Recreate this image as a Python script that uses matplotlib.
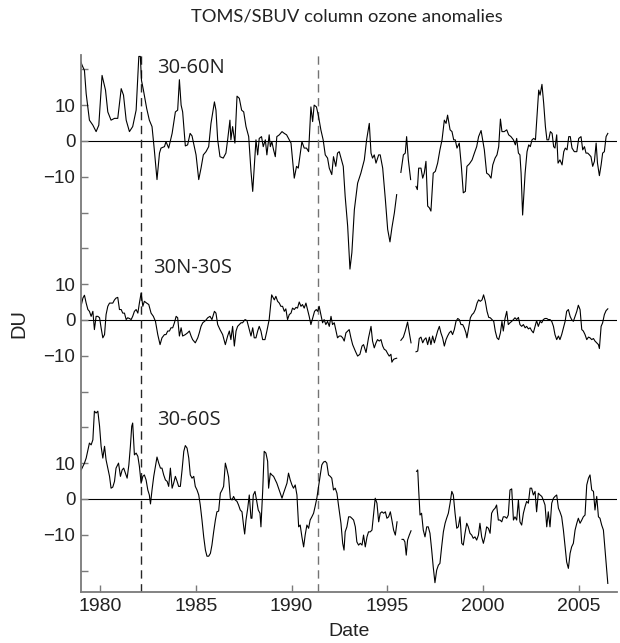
import numpy as np
import matplotlib
matplotlib.use("Agg")
import matplotlib.pyplot as plt

nan = float("nan")

# ---------------- data (decimal year, DU anomaly) ----------------
n_years = [1979.00, 1979.06, 1979.18, 1979.27, 1979.44, 1979.62, 1979.79, 1979.93, 1980.10, 1980.28,
           1980.40, 1980.57, 1980.75, 1980.92, 1981.10, 1981.22, 1981.36, 1981.53, 1981.70, 1981.88,
           1982.02, 1982.10, 1982.16, 1982.26, 1982.43, 1982.57, 1982.71, 1982.83, 1982.97, 1983.10,
           1983.18, 1983.36, 1983.44, 1983.58, 1983.76, 1983.93, 1984.05, 1984.14, 1984.23, 1984.31,
           1984.45, 1984.57, 1984.70, 1984.80, 1984.92, 1985.01, 1985.15, 1985.27, 1985.39, 1985.53,
           1985.67, 1985.79, 1985.97, 1986.05, 1986.14, 1986.26, 1986.43, 1986.57, 1986.66, 1986.78,
           1986.83, 1986.92, 1987.04, 1987.15, 1987.27, 1987.39, 1987.50, 1987.62, 1987.76, 1987.88,
           1987.97, 1988.05, 1988.14, 1988.23, 1988.31, 1988.43, 1988.52, 1988.63, 1988.71, 1988.83,
           1988.89, 1988.97, 1989.06, 1989.15, 1989.23, 1989.36, 1989.50, 1989.62, 1989.74, 1989.84,
           1989.97, 1990.05, 1990.14, 1990.26, 1990.35, 1990.43, 1990.54, 1990.66, 1990.78, 1990.89,
           1991.01, 1991.10, 1991.18, 1991.30, 1991.41, 1991.53, 1991.65, 1991.76, 1991.88, 1991.97,
           1992.10, 1992.19, 1992.31, 1992.40, 1992.49, 1992.58, 1992.70, 1992.80, 1992.93, 1993.05,
           1993.15, 1993.28, 1993.45, 1993.62, 1993.80, 1993.92, 1994.06, 1994.15, 1994.23, 1994.32,
           1994.41, 1994.55, 1994.63, 1994.76, 1994.90, 1995.02, 1995.14, 1995.24, 1995.37, 1995.49,
           1995.60, 1995.71, 1995.84, 1995.94, 1996.01, 1996.10, 1996.22, 1996.36, 1996.50, 1996.57,
           1996.64, 1996.76, 1996.85, 1996.93, 1997.02, 1997.11, 1997.20, 1997.28, 1997.40, 1997.51,
           1997.63, 1997.75, 1997.86, 1997.98, 1998.07, 1998.15, 1998.28, 1998.38, 1998.47, 1998.55,
           1998.64, 1998.76, 1998.87, 1998.97, 1999.08, 1999.16, 1999.29, 1999.43, 1999.55, 1999.67,
           1999.77, 1999.90, 1999.98, 2000.07, 2000.19, 2000.30, 2000.42, 2000.51, 2000.63, 2000.73,
           2000.82, 2000.91, 2000.99, 2001.11, 2001.24, 2001.34, 2001.46, 2001.59, 2001.69, 2001.76,
           2001.85, 2001.93, 2001.99, 2002.07, 2002.20, 2002.30, 2002.39, 2002.47, 2002.56, 2002.65,
           2002.74, 2002.82, 2002.91, 2002.98, 2003.08, 2003.17, 2003.26, 2003.34, 2003.43, 2003.52,
           2003.61, 2003.69, 2003.76, 2003.85, 2003.92, 2004.02, 2004.13, 2004.22, 2004.30, 2004.39,
           2004.48, 2004.56, 2004.65, 2004.77, 2004.90, 2005.00, 2005.12, 2005.21, 2005.30, 2005.38,
           2005.47, 2005.56, 2005.64, 2005.73, 2005.82, 2005.91, 2005.98, 2006.08, 2006.17, 2006.25,
           2006.34, 2006.43, 2006.52]
n_values = [22.0, 21.1, 19.7, 13.2, 5.8, 4.4, 2.6, 4.4, 18.3, 14.2,
            8.1, 5.8, 6.3, 6.3, 14.6, 12.8, 5.8, 2.6, 4.0, 8.6,
            23.6, 23.6, 16.9, 14.2, 9.1, 5.8, 4.0, -2.5, -10.8, -3.4,
            -2.0, -1.6, -0.2, -2.0, 2.1, 8.1, 8.6, 17.1, 10.0, 8.1,
            -1.4, -1.1, 2.1, 1.4, -1.6, -3.9, -10.8, -7.6, -3.9, -3.0,
            -1.6, 4.9, 10.9, 8.6, 0.3, -4.4, -4.8, -3.4, 0.3, 5.8,
            0.3, 4.0, -0.6, 12.5, 11.9, 8.6, 8.1, 4.0, 1.2, -8.5,
            -14.1, -7.1, 0.3, -3.9, 0.7, 1.2, -1.6, 0.3, -3.9, 1.7,
            -1.6, -0.2, -2.5, -4.4, 1.2, 1.7, 2.6, 2.1, 1.7, 0.7,
            -0.6, -5.3, -10.4, -7.1, -7.6, -4.4, -0.2, -2.0, -2.0, -3.0,
            9.5, 5.4, 10.0, 9.5, 6.8, 3.1, 0.3, -3.9, -4.8, -7.6,
            -9.4, -4.4, -7.1, -3.4, -3.0, -4.8, -7.1, -15.5, -23.8, -35.8,
            -31.2, -19.2, -11.8, -9.0, -5.3, 0.3, 4.9, -3.4, -4.8, -3.9,
            -6.2, -3.9, -3.9, -7.6, -16.4, -24.7, -28.2, -24.3, -20.1, -15.0,
            nan, -8.8, -3.9, -3.4, 1.2, -5.3, -10.8, nan, -12.7, -13.6,
            -7.6, -7.6, -10.4, -9.0, -5.7, -18.2, -18.7, -19.6, -9.0, -8.5,
            -6.2, -2.5, 0.3, 5.8, 4.9, 7.2, 3.1, 2.6, 0.3, 0.3,
            -2.0, -0.6, -7.1, -14.5, -14.1, -7.1, -6.4, -5.3, -3.4, -1.6,
            1.2, 2.9, 0.3, -2.5, -9.0, -9.4, -10.4, -6.7, -4.8, -3.9,
            -1.6, 6.1, 2.6, 2.6, 3.1, 1.7, 1.2, 0.3, -1.1, 0.7,
            -3.4, -3.9, -9.0, -20.7, -9.0, -3.0, -1.1, -1.6, 0.3, 0.7,
            0.3, 6.8, 14.2, 12.8, 15.8, 10.5, 4.0, 0.3, 0.3, 2.6,
            2.1, -1.6, -2.0, 1.7, -6.2, -5.3, -6.7, -3.0, -2.0, -2.5,
            1.2, 1.2, -2.0, -3.0, -3.0, 0.7, 1.2, -2.5, -1.6, -3.4,
            -3.4, -3.9, -4.4, -7.1, -5.7, -0.6, -6.2, -9.7, -6.7, -3.4,
            -3.0, 1.2, 2.1]

t_years = [1979.00, 1979.10, 1979.18, 1979.27, 1979.36, 1979.44, 1979.53, 1979.62, 1979.70, 1979.79,
           1979.88, 1979.97, 1980.05, 1980.14, 1980.23, 1980.31, 1980.40, 1980.49, 1980.57, 1980.66,
           1980.75, 1980.83, 1980.92, 1981.01, 1981.10, 1981.18, 1981.27, 1981.36, 1981.44, 1981.53,
           1981.62, 1981.70, 1981.79, 1981.88, 1981.97, 1982.05, 1982.14, 1982.23, 1982.31, 1982.43,
           1982.54, 1982.66, 1982.78, 1982.89, 1983.01, 1983.13, 1983.23, 1983.36, 1983.44, 1983.53,
           1983.62, 1983.70, 1983.79, 1983.88, 1983.97, 1984.05, 1984.14, 1984.23, 1984.31, 1984.45,
           1984.57, 1984.66, 1984.75, 1984.83, 1984.97, 1985.10, 1985.18, 1985.27, 1985.36, 1985.50,
           1985.62, 1985.74, 1985.84, 1985.97, 1986.05, 1986.14, 1986.26, 1986.40, 1986.54, 1986.66,
           1986.75, 1986.83, 1986.92, 1987.01, 1987.10, 1987.18, 1987.27, 1987.36, 1987.44, 1987.57,
           1987.67, 1987.79, 1987.88, 1987.97, 1988.05, 1988.14, 1988.23, 1988.31, 1988.40, 1988.49,
           1988.61, 1988.71, 1988.83, 1988.96, 1989.10, 1989.18, 1989.27, 1989.36, 1989.44, 1989.53,
           1989.62, 1989.70, 1989.79, 1989.88, 1989.97, 1990.05, 1990.14, 1990.23, 1990.31, 1990.40,
           1990.49, 1990.57, 1990.66, 1990.75, 1990.83, 1990.92, 1991.01, 1991.10, 1991.20, 1991.29,
           1991.36, 1991.44, 1991.53, 1991.62, 1991.70, 1991.79, 1991.88, 1991.97, 1992.06, 1992.14,
           1992.23, 1992.32, 1992.40, 1992.49, 1992.58, 1992.67, 1992.75, 1992.84, 1992.93, 1993.01,
           1993.10, 1993.19, 1993.33, 1993.45, 1993.57, 1993.68, 1993.76, 1993.89, 1994.02, 1994.15,
           1994.23, 1994.32, 1994.41, 1994.49, 1994.58, 1994.67, 1994.76, 1994.84, 1994.93, 1995.02,
           1995.10, 1995.19, 1995.24, 1995.33, 1995.42, 1995.49, 1995.60, 1995.71, 1995.84, 1995.94,
           1996.06, 1996.15, 1996.24, 1996.37, 1996.50, 1996.59, 1996.67, 1996.76, 1996.85, 1996.93,
           1997.02, 1997.11, 1997.20, 1997.28, 1997.37, 1997.46, 1997.54, 1997.63, 1997.72, 1997.80,
           1997.89, 1997.98, 1998.07, 1998.15, 1998.24, 1998.33, 1998.41, 1998.50, 1998.59, 1998.68,
           1998.76, 1998.85, 1998.94, 1999.02, 1999.11, 1999.16, 1999.25, 1999.34, 1999.43, 1999.51,
           1999.60, 1999.69, 1999.77, 1999.86, 1999.95, 2000.03, 2000.12, 2000.21, 2000.30, 2000.38,
           2000.47, 2000.56, 2000.64, 2000.73, 2000.82, 2000.91, 2000.99, 2001.06, 2001.15, 2001.24,
           2001.32, 2001.41, 2001.50, 2001.59, 2001.67, 2001.76, 2001.85, 2001.93, 2002.02, 2002.11,
           2002.20, 2002.28, 2002.37, 2002.46, 2002.54, 2002.63, 2002.72, 2002.80, 2002.89, 2002.98,
           2003.07, 2003.15, 2003.24, 2003.33, 2003.41, 2003.50, 2003.59, 2003.68, 2003.76, 2003.85,
           2003.94, 2004.02, 2004.11, 2004.20, 2004.29, 2004.37, 2004.46, 2004.55, 2004.63, 2004.72,
           2004.81, 2004.90, 2004.98, 2005.07, 2005.16, 2005.24, 2005.33, 2005.42, 2005.51, 2005.59,
           2005.68, 2005.77, 2005.85, 2005.94, 2006.03, 2006.08, 2006.17, 2006.25, 2006.34, 2006.43,
           2006.52]
t_values = [3.8, 6.1, 6.9, 4.7, 2.9, 2.4, 1.0, 2.4, -2.7, 1.0,
            1.0, 0.6, -2.2, -5.0, -4.1, 1.5, 3.8, 4.7, 4.7, 4.7,
            5.6, 6.1, 6.3, 2.9, 2.9, 1.9, 1.9, 0.1, 0.6, 0.4,
            0.1, 1.0, 2.4, 2.9, 1.9, 4.7, 7.5, 3.8, 5.2, 4.7,
            4.3, 1.9, 1.0, -0.4, -4.1, -6.9, -5.0, -4.1, -4.1, -3.1,
            -3.1, -2.2, -2.2, -0.8, 1.0, 0.6, -4.5, -2.2, -4.5, -4.1,
            -3.6, -3.1, -4.5, -5.5, -6.4, -5.0, -3.6, -1.8, -0.8, -0.2,
            0.6, 1.0, 0.1, 2.4, 1.9, -1.3, -2.7, -4.1, -6.9, -4.5,
            -3.1, -5.5, -1.8, -7.3, -3.1, -1.8, -1.3, -0.8, -0.8, 0.1,
            -0.2, -2.7, -4.5, -2.2, -5.0, -5.0, -3.1, -1.8, -3.1, -5.5,
            -5.5, -3.1, 0.1, 7.0, 5.6, 6.6, 5.2, 4.7, 3.8, 3.8,
            2.4, 3.1, 0.1, 1.5, 1.9, 3.3, 2.9, 3.5, 3.3, 5.0,
            3.8, 4.3, 3.3, 4.7, 2.9, 1.0, -1.3, 0.4, 2.4, 2.9,
            2.4, 3.8, 1.5, -0.8, 0.1, -1.3, -0.4, -1.8, 1.0, -1.3,
            -0.8, -3.1, -5.0, -4.5, -4.5, -5.0, -5.9, -3.6, -3.1, -2.7,
            -5.0, -6.9, -8.7, -10.1, -9.6, -7.3, -6.9, -9.1, -5.0, -1.8,
            -5.9, -7.8, -6.4, -5.5, -5.9, -5.5, -7.3, -8.2, -8.5, -9.4,
            -10.1, -9.6, -11.8, -11.0, -10.8, -10.7, nan, -5.7, -4.8, -3.1,
            -0.6, -3.6, -6.4, nan, -8.9, -8.7, -5.2, -4.8, -6.4, -5.5,
            -5.0, -6.9, -4.8, -6.9, -4.5, -6.4, -4.8, -3.1, -1.8, -3.6,
            -5.0, -7.3, -5.5, -4.5, -3.6, -3.1, -4.1, -2.7, -0.4, 0.4,
            0.1, -1.3, -1.3, -2.2, -3.6, -5.0, -2.2, 0.6, 1.5, 1.9,
            2.9, 4.7, 5.6, 5.2, 5.6, 7.0, 5.2, 2.4, 0.7, 0.6,
            0.1, -0.4, -3.1, -5.0, -5.5, -3.6, -0.4, -3.1, 0.4, 2.4,
            -1.3, -0.8, -0.4, 0.1, 0.6, 0.1, 0.7, -1.3, -1.8, -1.3,
            -2.2, -1.8, -2.5, -2.2, -3.0, -3.6, -1.8, -0.2, -1.8, -0.4,
            -0.8, 0.1, 0.4, 0.4, 0.1, 0.1, -0.4, -1.8, -4.1, -5.5,
            -4.5, -5.5, -4.1, -2.2, -0.4, 2.4, 2.9, 1.0, 0.1, -0.4,
            1.0, 2.4, 4.1, 2.9, -2.7, -3.1, -4.1, -5.5, -4.8, -5.0,
            -5.5, -5.2, -5.9, -6.4, -6.9, -8.0, -1.8, -0.8, 1.5, 2.6,
            3.1]

s_years = [1979.01, 1979.10, 1979.18, 1979.27, 1979.36, 1979.44, 1979.53, 1979.62, 1979.70, 1979.79,
           1979.88, 1979.97, 1980.05, 1980.14, 1980.23, 1980.31, 1980.40, 1980.49, 1980.57, 1980.66,
           1980.75, 1980.83, 1980.96, 1981.06, 1981.15, 1981.23, 1981.32, 1981.41, 1981.50, 1981.58,
           1981.65, 1981.70, 1981.79, 1981.88, 1981.97, 1982.05, 1982.14, 1982.23, 1982.31, 1982.40,
           1982.49, 1982.57, 1982.63, 1982.71, 1982.80, 1982.89, 1982.97, 1983.06, 1983.15, 1983.23,
           1983.32, 1983.41, 1983.50, 1983.58, 1983.67, 1983.76, 1983.84, 1983.93, 1984.02, 1984.10,
           1984.19, 1984.28, 1984.37, 1984.45, 1984.54, 1984.63, 1984.71, 1984.80, 1984.89, 1984.97,
           1985.06, 1985.15, 1985.23, 1985.32, 1985.41, 1985.50, 1985.58, 1985.67, 1985.76, 1985.84,
           1985.93, 1986.02, 1986.10, 1986.19, 1986.28, 1986.37, 1986.45, 1986.54, 1986.63, 1986.71,
           1986.80, 1986.89, 1986.97, 1987.06, 1987.15, 1987.23, 1987.32, 1987.41, 1987.50, 1987.55,
           1987.62, 1987.71, 1987.79, 1987.88, 1987.93, 1988.00, 1988.09, 1988.17, 1988.26, 1988.35,
           1988.40, 1988.49, 1988.57, 1988.66, 1988.75, 1988.80, 1988.89, 1988.97, 1989.06, 1989.15,
           1989.23, 1989.32, 1989.41, 1989.50, 1989.58, 1989.67, 1989.76, 1989.84, 1989.93, 1990.02,
           1990.10, 1990.19, 1990.28, 1990.37, 1990.45, 1990.54, 1990.63, 1990.71, 1990.80, 1990.89,
           1990.97, 1991.06, 1991.15, 1991.23, 1991.32, 1991.41, 1991.50, 1991.58, 1991.67, 1991.76,
           1991.84, 1991.93, 1992.02, 1992.10, 1992.19, 1992.28, 1992.37, 1992.45, 1992.58, 1992.67,
           1992.74, 1992.80, 1992.89, 1992.98, 1993.07, 1993.15, 1993.24, 1993.33, 1993.41, 1993.50,
           1993.59, 1993.68, 1993.76, 1993.85, 1993.94, 1994.02, 1994.11, 1994.20, 1994.29, 1994.37,
           1994.46, 1994.55, 1994.63, 1994.72, 1994.81, 1994.90, 1994.98, 1995.07, 1995.16, 1995.24,
           1995.33, 1995.42, 1995.51, 1995.64, 1995.77, 1995.85, 1995.92, 1995.99, 1996.06, 1996.15,
           1996.24, 1996.38, 1996.53, 1996.59, 1996.64, 1996.71, 1996.79, 1996.88, 1996.97, 1997.06,
           1997.14, 1997.23, 1997.32, 1997.40, 1997.49, 1997.58, 1997.67, 1997.75, 1997.84, 1997.93,
           1998.02, 1998.10, 1998.19, 1998.28, 1998.37, 1998.45, 1998.54, 1998.63, 1998.71, 1998.80,
           1998.89, 1998.97, 1999.06, 1999.15, 1999.23, 1999.32, 1999.41, 1999.49, 1999.58, 1999.67,
           1999.76, 1999.84, 1999.93, 2000.02, 2000.10, 2000.19, 2000.28, 2000.37, 2000.45, 2000.54,
           2000.63, 2000.71, 2000.80, 2000.89, 2000.98, 2001.06, 2001.15, 2001.24, 2001.32, 2001.41,
           2001.50, 2001.59, 2001.67, 2001.76, 2001.85, 2001.93, 2002.02, 2002.11, 2002.20, 2002.28,
           2002.37, 2002.46, 2002.54, 2002.63, 2002.72, 2002.80, 2002.89, 2002.98, 2003.07, 2003.15,
           2003.24, 2003.33, 2003.41, 2003.50, 2003.59, 2003.68, 2003.76, 2003.85, 2003.94, 2004.02,
           2004.11, 2004.20, 2004.29, 2004.37, 2004.46, 2004.55, 2004.63, 2004.72, 2004.81, 2004.90,
           2004.98, 2005.07, 2005.16, 2005.24, 2005.33, 2005.42, 2005.51, 2005.59, 2005.68, 2005.77,
           2005.85, 2005.94, 2006.03, 2006.11, 2006.20, 2006.29, 2006.39, 2006.52]
s_values = [8.1, 9.1, 10.0, 11.4, 13.7, 15.6, 15.1, 16.5, 24.5, 24.0,
            24.5, 20.3, 14.7, 11.4, 14.7, 10.9, 8.6, 6.3, 3.0, 3.3,
            4.9, 8.6, 10.0, 6.3, 8.1, 8.6, 7.2, 5.8, 9.5, 14.7,
            20.3, 21.2, 12.3, 12.8, 11.9, 9.1, 4.4, 6.3, 6.7, 5.3,
            2.5, 1.1, -1.4, 2.5, 6.3, 9.1, 11.7, 10.0, 8.6, 8.6,
            6.7, 5.3, 4.9, 3.5, 8.6, 3.0, 4.4, 6.3, 4.9, 3.5,
            3.5, 8.1, 13.3, 14.9, 14.2, 11.4, 6.7, 5.8, 6.3, 3.5,
            2.5, 1.1, -1.7, -5.9, -10.6, -14.3, -16.0, -16.0, -15.2, -12.9,
            -9.2, -5.9, -3.6, -3.4, 1.6, 2.5, 3.5, 10.0, 8.1, 6.1,
            0.2, -0.3, 0.7, -0.3, -0.7, -1.7, -3.1, -3.6, -7.8, -9.8,
            -5.9, -2.6, 1.1, -5.4, -5.4, 1.1, 2.1, -0.3, -3.1, -4.0,
            -7.8, 2.1, 13.3, 12.8, 10.5, 3.0, 7.2, 6.7, 6.3, 5.3,
            4.4, 3.0, 1.6, 0.2, 1.6, 3.0, 4.4, 7.2, 5.3, 3.9,
            3.0, 3.9, 1.1, -7.8, -7.3, -10.6, -13.4, -10.1, -7.3, -8.2,
            -5.9, -5.0, -4.0, -2.1, 0.2, 3.5, 6.7, 9.5, 10.3, 10.5,
            10.0, 6.7, 6.3, 5.8, 2.5, 3.0, 1.6, -1.7, -6.8, -12.4,
            -14.3, -9.2, -7.8, -5.0, -5.0, -5.4, -5.9, -7.8, -12.0, -12.9,
            -12.4, -12.9, -10.1, -13.4, -10.6, -9.2, -9.2, -8.7, -4.0, 0.2,
            -1.2, -6.4, -4.0, -3.6, -4.0, -3.6, -5.4, -5.0, -3.6, -5.9,
            -8.7, -10.1, -6.4, nan, -11.3, -11.3, -12.0, -15.7, -11.5, -10.1,
            -8.9, nan, 7.7, 8.1, 2.5, -4.5, -4.0, -8.7, -10.6, -7.8,
            -7.8, -9.6, -14.3, -19.0, -23.4, -19.9, -18.5, -18.0, -13.4, -9.2,
            -6.8, -5.4, -4.0, -1.2, 2.1, 1.1, -4.0, -8.2, -7.8, -5.0,
            -12.4, -12.9, -9.6, -6.8, -7.8, -9.6, -10.1, -11.0, -10.6, -11.5,
            -10.1, -6.8, -10.6, -12.4, -10.6, -7.8, -8.2, -9.6, -4.0, -3.1,
            -2.6, -1.7, -5.9, -5.9, -6.4, -5.0, -5.0, -5.4, -4.5, 2.5,
            2.8, -5.9, -5.0, -5.9, -0.3, -6.4, -7.3, -4.0, -2.1, -0.7,
            -1.2, 3.0, 3.0, 1.1, 2.1, -3.6, 1.6, 1.1, 0.7, -0.3,
            -1.7, -7.8, -3.6, -7.8, -1.2, 0.2, 0.7, 1.1, -2.6, -3.6,
            -5.0, -8.7, -13.4, -17.6, -19.4, -15.2, -13.4, -12.4, -8.7, -6.8,
            -5.4, -6.8, -5.9, -5.0, -4.5, 3.9, 5.8, 6.7, 2.5, 2.1,
            -3.1, 0.7, -5.0, -5.4, -7.3, -8.7, -15.2, -23.6]

region_labels = ["30-60N", "30N-30S", "30-60S"]
x_ticks = [1980, 1985, 1990, 1995, 2000, 2005]
eruption_years = [1982.13, 1991.40]
title = "TOMS/SBUV column ozone anomalies"

# ---------------- layout ----------------
offsets = [100, 50, 0]
label_pos = [(1982.95, 120.3), (1982.74, 64.5), (1982.95, 22.1)]

fig = plt.figure(figsize=(6.20, 6.43), dpi=100)
ax = fig.add_axes([81 / 620, 1 - 592 / 643, 536 / 620, 537 / 643])

series = [(n_years, n_values), (t_years, t_values), (s_years, s_values)]
for (yrs, vals), off in zip(series, offsets):
    ax.axhline(off, color="black", lw=0.8, zorder=1)
    ax.plot(yrs, np.asarray(vals) + off, color="black", lw=0.8, zorder=2)

ax.axvline(eruption_years[0], color="0.15", lw=1.0, ls=(0, (6, 4)), zorder=1)
ax.axvline(eruption_years[1], color="0.45", lw=1.0, ls=(0, (6, 4)), zorder=1)

for txt, (x, y) in zip(region_labels, label_pos):
    ax.text(x, y, txt, fontsize=14.5, family="Open Sans", va="center", ha="left", color="#222222")

ax.set_xlim(1979, 2007)
ax.set_ylim(-26, 124)
ax.set_xticks(x_ticks)
ax.set_xticklabels([str(v) for v in x_ticks])

yt = np.arange(-20, 121, 10)
ylabels = []
for t in yt:
    lab = ""
    for off in offsets:
        d = t - off
        if d in (-10, 0, 10):
            lab = str(d).replace("-", "\u2212")
    ylabels.append(lab)
ax.set_yticks(yt)
ax.set_yticklabels(ylabels)

for s in ["top", "right"]:
    ax.spines[s].set_visible(False)
for s in ["left", "bottom"]:
    ax.spines[s].set_color("#7a7a7a")
    ax.spines[s].set_linewidth(1.3)
ax.tick_params(direction="in", length=5, width=1.0, color="#7a7a7a",
               labelcolor="#222222", pad=4)
ax.tick_params(axis="x", labelsize=14)
ax.tick_params(axis="y", labelsize=13.5)
for lbl in ax.get_xticklabels() + ax.get_yticklabels():
    lbl.set_family("Liberation Sans")

ax.set_xlabel("Date", fontsize=14, family="Liberation Sans", color="#222222", labelpad=6)
ax.set_ylabel("DU", fontsize=14.5, family="Liberation Sans", color="#222222", labelpad=11)

fig.text(347 / 620, 1 - 16 / 643, title, ha="center", va="center",
         fontsize=13.2, family="Lato", color="#222222")

fig.savefig("out.png", dpi=100)
